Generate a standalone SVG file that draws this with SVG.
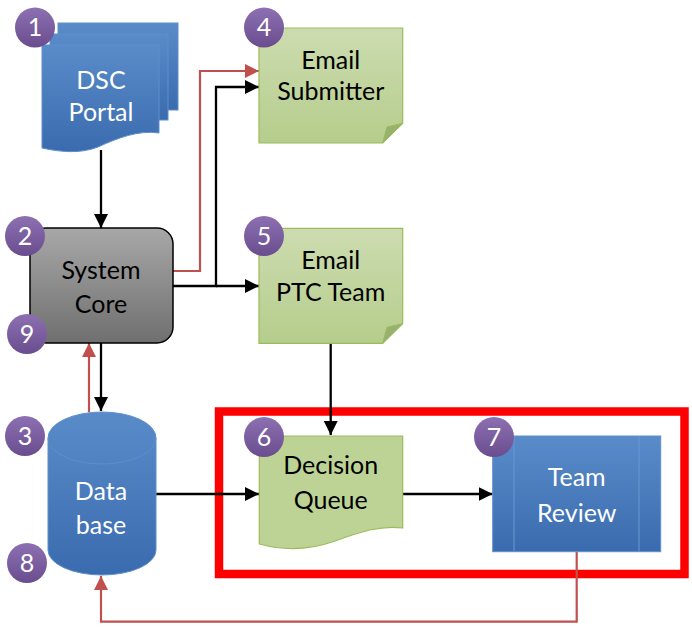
<svg xmlns="http://www.w3.org/2000/svg" width="692" height="628" viewBox="0 0 692 628">
  <defs>
    <linearGradient id="gBlue" x1="0" y1="0" x2="0" y2="1">
      <stop offset="0" stop-color="#5a8bc9"/>
      <stop offset="1" stop-color="#3a6bae"/>
    </linearGradient>
    <linearGradient id="gGray" x1="0" y1="0" x2="0" y2="1">
      <stop offset="0" stop-color="#a8a8a8"/>
      <stop offset="1" stop-color="#6f6f6f"/>
    </linearGradient>
    <linearGradient id="gGreen" x1="0" y1="0" x2="0" y2="1">
      <stop offset="0" stop-color="#cddcb0"/>
      <stop offset="1" stop-color="#b5cd8c"/>
    </linearGradient>
    <linearGradient id="gPurple" x1="0" y1="0" x2="0" y2="1">
      <stop offset="0" stop-color="#8d70b1"/>
      <stop offset="1" stop-color="#6a4d8e"/>
    </linearGradient>
    <marker id="arrowBlack" viewBox="0 0 14 14" refX="14" refY="7" markerWidth="14" markerHeight="14" markerUnits="userSpaceOnUse" orient="auto">
      <path d="M0,0 L14,7 L0,14 Z" fill="#000"/>
    </marker>
    <marker id="arrowRed" viewBox="0 0 14 14" refX="14" refY="7" markerWidth="14" markerHeight="14" markerUnits="userSpaceOnUse" orient="auto">
      <path d="M0,0 L14,7 L0,14 Z" fill="#c0504d"/>
    </marker>
  </defs>
  <style>
    text { font-family: Lato, "Liberation Sans", sans-serif; font-size: 25px; text-anchor: middle; }
    .dark { fill: #000; }
    .light { fill: #fff; }
    .badge circle { fill: url(#gPurple); }
    .badge text { fill: #fff; font-size: 25px; }
    .blue { fill: url(#gBlue); stroke: #5e8fcc; stroke-width: 1; }
    .green { fill: url(#gGreen); stroke: #9bbb59; stroke-width: 1.2; }
    .fold { fill: #98b16e; stroke: #9bbb59; stroke-width: 1; }
    .link { fill: none; stroke: #000; stroke-width: 2.3; }
    .back { fill: none; stroke: #c0504d; stroke-width: 2.2; }
  </style>

  <rect width="692" height="628" fill="#fff"/>

  <!-- highlight frame round the review stage -->
  <rect id="review-frame" x="219" y="411.5" width="465.5" height="162.5" fill="none" stroke="#ff0000" stroke-width="8.5"/>

  <!-- connectors -->
  <g id="connectors">
    <path class="link" d="M101,150 V228" marker-end="url(#arrowBlack)"/>
    <path class="back" d="M173,271 H200 V71 H259" marker-end="url(#arrowRed)"/>
    <path class="link" d="M173,286 H216 V87 H259" marker-end="url(#arrowBlack)"/>
    <path class="link" d="M216,286 H259" marker-end="url(#arrowBlack)"/>
    <path class="link" d="M101,343 V411" marker-end="url(#arrowBlack)"/>
    <path class="back" d="M89,412 V343" marker-end="url(#arrowRed)"/>
    <path class="link" d="M330.7,343 V435" marker-end="url(#arrowBlack)"/>
    <path class="link" d="M156,494 H259" marker-end="url(#arrowBlack)"/>
    <path class="link" d="M402.7,494 H492.7" marker-end="url(#arrowBlack)"/>
    <path class="back" d="M576.7,552 V621.7 H101 V576" marker-end="url(#arrowRed)"/>
  </g>

  <!-- 1: portal (stacked documents) -->
  <g id="dsc-portal">
    <rect class="blue" x="58" y="23" width="120" height="87"/>
    <rect class="blue" x="50" y="34" width="118" height="86"/>
    <path class="blue" d="M42,45 H159 V133 C138,130 118,138 98,147 C80,154 60,152 42,148 Z"/>
    <text class="light" x="101" y="89">DSC</text>
    <text class="light" x="101" y="121">Portal</text>
  </g>

  <!-- 2/9: core -->
  <g id="system-core">
    <rect x="30" y="228" width="143" height="115" rx="16" fill="url(#gGray)" stroke="#000" stroke-width="1.5"/>
    <text class="dark" x="101" y="279">System</text>
    <text class="dark" x="101" y="313">Core</text>
  </g>

  <!-- 4: submitter mail -->
  <g id="email-submitter">
    <path class="green" d="M259,28 H402.7 V123.3 L382.7,143 H259 Z"/>
    <path class="fold" d="M402.7,123.3 L387,127 L382.7,143 Z"/>
    <text class="dark" x="330.7" y="69">Email</text>
    <text class="dark" x="330.7" y="100">Submitter</text>
  </g>

  <!-- 5: team mail -->
  <g id="email-ptc-team">
    <path class="green" d="M259,228.3 H402.7 V323.6 L382.7,343.3 H259 Z"/>
    <path class="fold" d="M402.7,323.6 L387,327.3 L382.7,343.3 Z"/>
    <text class="dark" x="330.7" y="269">Email</text>
    <text class="dark" x="330.7" y="300.7">PTC Team</text>
  </g>

  <!-- 3/8: database -->
  <g id="database">
    <path class="blue" d="M48,438 A54,26 0 0 1 156,438 V550 A54,25 0 0 1 48,550 Z"/>
    <path d="M48,438 A54,26 0 0 0 156,438" fill="none" stroke="#5e8fcc" stroke-width="1"/>
    <text class="light" x="101" y="500">Data</text>
    <text class="light" x="101" y="534">base</text>
  </g>

  <!-- 6: decision queue -->
  <g id="decision-queue">
    <path d="M259.3,436 H402.7 V528 C380,525 360,532 335,541 C310,550 285,551 259.3,544 Z" fill="#bdd396" stroke="#9bbb59" stroke-width="1.2"/>
    <text class="dark" x="330.7" y="474.3">Decision</text>
    <text class="dark" x="330.7" y="509.3">Queue</text>
  </g>

  <!-- 7: team review (predefined process) -->
  <g id="team-review">
    <rect class="blue" x="492.7" y="436" width="168" height="115.7"/>
    <line x1="514" y1="436" x2="514" y2="551.7" stroke="#6b98d0" stroke-width="1"/>
    <line x1="639" y1="436" x2="639" y2="551.7" stroke="#6b98d0" stroke-width="1"/>
    <text class="light" x="576.7" y="486">Team</text>
    <text class="light" x="576.7" y="521.7">Review</text>
  </g>

  <!-- step badges -->
  <g id="badge-1" class="badge"><circle cx="35" cy="27.5" r="20"/><text x="35" y="36">1</text></g>
  <g id="badge-2" class="badge"><circle cx="25" cy="236" r="20"/><text x="25" y="244.5">2</text></g>
  <g id="badge-9" class="badge"><circle cx="27" cy="334" r="20"/><text x="27" y="342.5">9</text></g>
  <g id="badge-3" class="badge"><circle cx="25" cy="436" r="20"/><text x="25" y="444.5">3</text></g>
  <g id="badge-8" class="badge"><circle cx="27" cy="563" r="20"/><text x="27" y="571.5">8</text></g>
  <g id="badge-4" class="badge"><circle cx="264" cy="27.5" r="20"/><text x="264" y="36">4</text></g>
  <g id="badge-5" class="badge"><circle cx="264" cy="236" r="20"/><text x="264" y="244.5">5</text></g>
  <g id="badge-6" class="badge"><circle cx="264" cy="437" r="20"/><text x="264" y="445.5">6</text></g>
  <g id="badge-7" class="badge"><circle cx="494" cy="437" r="20"/><text x="494" y="445.5">7</text></g>
</svg>
